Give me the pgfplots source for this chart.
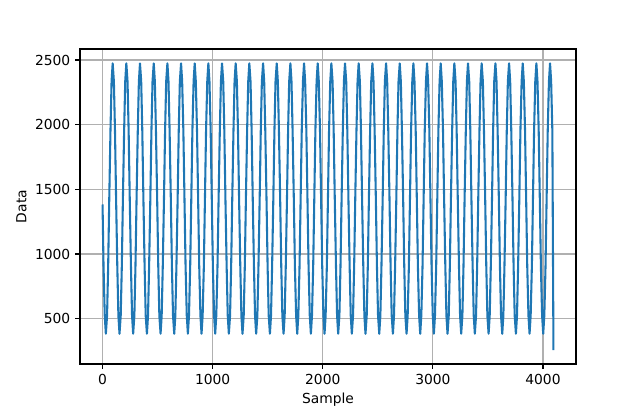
\documentclass[border=0pt]{standalone}
\usepackage{fontspec}
\setmainfont{DejaVu Sans}
\usepackage{pgfplots}
\pgfplotsset{compat=1.18}
\definecolor{mplblue}{HTML}{1F77B4}
\definecolor{mplgrid}{HTML}{B0B0B0}
\begin{document}
\begin{tikzpicture}
\begin{axis}[
  scale only axis,
  width=4.96in, height=3.15in,
  xmin=-204.75, xmax=4299.75,
  ymin=150, ymax=2585,
  xtick={0,1000,2000,3000,4000},
  ytick={500,1000,1500,2000,2500},
  tick pos=left,
  tick align=outside,
  major tick length=3.5pt,
  every tick/.style={black, line width=0.8pt},
  axis line style={black, line width=0.8pt},
  grid=major,
  major grid style={mplgrid, line width=0.8pt},
  /pgf/number format/assume math mode=true,
  /pgf/number format/1000 sep={},
  tick label style={font=\fontsize{10}{12}\selectfont},
  xlabel={Sample}, ylabel={Data},
  label style={font=\fontsize{10}{12}\selectfont},
  x label style={at={(axis description cs:0.5,-0.114)}, anchor=center},
  y label style={at={(axis description cs:-0.118,0.5)}, anchor=center, rotate=0},
]
\addplot[mplblue, line width=1.5pt, line join=round] coordinates {
(0,1383)(9,906)(20,524)(30,384)(41,524)(51,906)(61,1429)(72,1952)(82,2334)(92,2474)(103,2334)(113,1952)
(123,1429)(134,906)(144,524)(154,384)(165,524)(175,906)(185,1429)(196,1952)(206,2334)(216,2474)(227,2334)(237,1952)
(247,1429)(258,906)(268,524)(278,384)(289,524)(299,906)(309,1429)(320,1952)(330,2334)(340,2474)(351,2334)(361,1952)
(371,1429)(382,906)(392,524)(403,384)(413,524)(423,906)(434,1429)(444,1952)(454,2334)(465,2474)(475,2334)(485,1952)
(496,1429)(506,906)(516,524)(527,384)(537,524)(547,906)(558,1429)(568,1952)(578,2334)(589,2474)(599,2334)(609,1952)
(620,1429)(630,906)(640,524)(651,384)(661,524)(671,906)(682,1429)(692,1952)(702,2334)(713,2474)(723,2334)(734,1952)
(744,1429)(754,906)(765,524)(775,384)(785,524)(796,906)(806,1429)(816,1952)(827,2334)(837,2474)(847,2334)(858,1952)
(868,1429)(878,906)(889,524)(899,384)(909,524)(920,906)(930,1429)(940,1952)(951,2334)(961,2474)(971,2334)(982,1952)
(992,1429)(1002,906)(1013,524)(1023,384)(1033,524)(1044,906)(1054,1429)(1065,1952)(1075,2334)(1085,2474)(1096,2334)(1106,1952)
(1116,1429)(1127,906)(1137,524)(1147,384)(1158,524)(1168,906)(1178,1429)(1189,1952)(1199,2334)(1209,2474)(1220,2334)(1230,1952)
(1240,1429)(1251,906)(1261,524)(1271,384)(1282,524)(1292,906)(1302,1429)(1313,1952)(1323,2334)(1333,2474)(1344,2334)(1354,1952)
(1364,1429)(1375,906)(1385,524)(1395,384)(1406,524)(1416,906)(1427,1429)(1437,1952)(1447,2334)(1458,2474)(1468,2334)(1478,1952)
(1489,1429)(1499,906)(1509,524)(1520,384)(1530,524)(1540,906)(1551,1429)(1561,1952)(1571,2334)(1582,2474)(1592,2334)(1602,1952)
(1613,1429)(1623,906)(1633,524)(1644,384)(1654,524)(1664,906)(1675,1429)(1685,1952)(1695,2334)(1706,2474)(1716,2334)(1726,1952)
(1737,1429)(1747,906)(1758,524)(1768,384)(1778,524)(1789,906)(1799,1429)(1809,1952)(1820,2334)(1830,2474)(1840,2334)(1851,1952)
(1861,1429)(1871,906)(1882,524)(1892,384)(1902,524)(1913,906)(1923,1429)(1933,1952)(1944,2334)(1954,2474)(1964,2334)(1975,1952)
(1985,1429)(1995,906)(2006,524)(2016,384)(2026,524)(2037,906)(2047,1429)(2057,1952)(2068,2334)(2078,2474)(2089,2334)(2099,1952)
(2109,1429)(2120,906)(2130,524)(2140,384)(2151,524)(2161,906)(2171,1429)(2182,1952)(2192,2334)(2202,2474)(2213,2334)(2223,1952)
(2233,1429)(2244,906)(2254,524)(2264,384)(2275,524)(2285,906)(2295,1429)(2306,1952)(2316,2334)(2326,2474)(2337,2334)(2347,1952)
(2357,1429)(2368,906)(2378,524)(2388,384)(2399,524)(2409,906)(2419,1429)(2430,1952)(2440,2334)(2451,2474)(2461,2334)(2471,1952)
(2482,1429)(2492,906)(2502,524)(2513,384)(2523,524)(2533,906)(2544,1429)(2554,1952)(2564,2334)(2575,2474)(2585,2334)(2595,1952)
(2606,1429)(2616,906)(2626,524)(2637,384)(2647,524)(2657,906)(2668,1429)(2678,1952)(2688,2334)(2699,2474)(2709,2334)(2719,1952)
(2730,1429)(2740,906)(2750,524)(2761,384)(2771,524)(2782,906)(2792,1429)(2802,1952)(2813,2334)(2823,2474)(2833,2334)(2844,1952)
(2854,1429)(2864,906)(2875,524)(2885,384)(2895,524)(2906,906)(2916,1429)(2926,1952)(2937,2334)(2947,2474)(2957,2334)(2968,1952)
(2978,1429)(2988,906)(2999,524)(3009,384)(3019,524)(3030,906)(3040,1429)(3050,1952)(3061,2334)(3071,2474)(3081,2334)(3092,1952)
(3102,1429)(3113,906)(3123,524)(3133,384)(3144,524)(3154,906)(3164,1429)(3175,1952)(3185,2334)(3195,2474)(3206,2334)(3216,1952)
(3226,1429)(3237,906)(3247,524)(3257,384)(3268,524)(3278,906)(3288,1429)(3299,1952)(3309,2334)(3319,2474)(3330,2334)(3340,1952)
(3350,1429)(3361,906)(3371,524)(3381,384)(3392,524)(3402,906)(3412,1429)(3423,1952)(3433,2334)(3443,2474)(3454,2334)(3464,1952)
(3475,1429)(3485,906)(3495,524)(3506,384)(3516,524)(3526,906)(3537,1429)(3547,1952)(3557,2334)(3568,2474)(3578,2334)(3588,1952)
(3599,1429)(3609,906)(3619,524)(3630,384)(3640,524)(3650,906)(3661,1429)(3671,1952)(3681,2334)(3692,2474)(3702,2334)(3712,1952)
(3723,1429)(3733,906)(3743,524)(3754,384)(3764,524)(3774,906)(3785,1429)(3795,1952)(3806,2334)(3816,2474)(3826,2334)(3837,1952)
(3847,1429)(3857,906)(3868,524)(3878,384)(3888,524)(3899,906)(3909,1429)(3919,1952)(3930,2334)(3940,2474)(3950,2334)(3961,1952)
(3971,1429)(3981,906)(3992,524)(4002,384)(4012,524)(4023,906)(4033,1429)(4043,1952)(4054,2334)(4064,2474)(4074,2334)(4085,1952)
(4095,258)
};
\end{axis}
\pgfresetboundingbox
\path ([shift={(-0.80in,-0.45in)}]current axis.south west) rectangle ([shift={(0.64in,0.49in)}]current axis.north east);
\end{tikzpicture}
\end{document}
